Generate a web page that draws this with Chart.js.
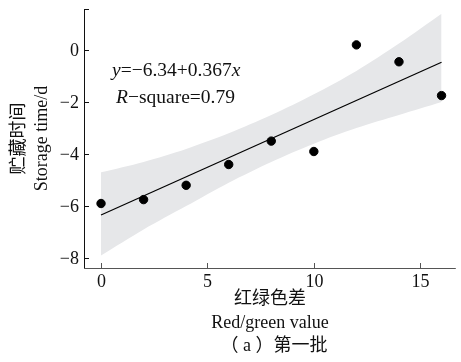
<!DOCTYPE html>
<html>
<head>
<meta charset="utf-8">
<script src="https://cdn.jsdelivr.net/npm/chart.js@4.4.1/dist/chart.umd.min.js"></script>
<style>
  body { margin: 0; background: #fff; }
  canvas { display: block; }
</style>
</head>
<body>
<canvas id="chart" width="461" height="362"></canvas>
<script>
// values
const xVals = [0, 2, 4, 6, 8, 10, 12, 14, 16];
const yVals = [-5.9, -5.75, -5.2, -4.4, -3.5, -3.9, 0.2, -0.45, -1.75];

// fitted line y = -6.34 + 0.367x, end points as drawn
const fitX = [0, 16];
const fitY = [-6.34, -0.47];

// confidence band edges
const bandX = [0, 2, 4, 6, 8, 10, 12, 14, 16];
const bandUpper = [-4.7, -4.3, -3.8, -3.2, -2.5, -1.7, -0.8, 0.25, 1.4];
const bandLower = [-7.9, -6.9, -6.0, -5.1, -4.3, -3.6, -3.0, -2.5, -2.0];

const xTicks = [0, 5, 10, 15];
const yTicks = [0, -2, -4, -6, -8];

const serif = '"Liberation Serif", "Times New Roman", serif';
const cjk = '"Liberation Serif", "Noto Sans CJK SC", serif';

const pts = (xs, ys) => xs.map((x, i) => ({ x: x, y: ys[i] }));
const minus = (v) => (v < 0 ? '\u2212' + Math.abs(v) : String(v));

const decorations = {
    id: 'decorations',
    afterDraw(chart) {
        const ctx = chart.ctx;
        const a = chart.chartArea;
        const xs = chart.scales.x;
        const ys = chart.scales.y;
        ctx.save();

        // axes
        ctx.lineWidth = 1;
        ctx.strokeStyle = '#111';
        ctx.beginPath();
        ctx.moveTo(a.left + 0.5, a.top);
        ctx.lineTo(a.left + 0.5, a.bottom);
        ctx.stroke();
        ctx.strokeStyle = '#555';
        ctx.beginPath();
        ctx.moveTo(a.left, a.bottom + 0.5);
        ctx.lineTo(a.right, a.bottom + 0.5);
        ctx.stroke();

        // inward ticks + labels
        ctx.fillStyle = '#111';
        ctx.font = '18px ' + serif;
        ctx.textAlign = 'right';
        ctx.textBaseline = 'middle';
        ctx.strokeStyle = '#111';
        yTicks.forEach((v) => {
            const py = Math.round(ys.getPixelForValue(v)) + 0.5;
            ctx.beginPath();
            ctx.moveTo(a.left, py);
            ctx.lineTo(a.left + 5, py);
            ctx.stroke();
            ctx.fillText(minus(v), a.left - 5, py + 1);
        });
        ctx.beginPath();
        ctx.moveTo(a.left, a.top + 0.5);
        ctx.lineTo(a.left + 5, a.top + 0.5);
        ctx.stroke();

        ctx.strokeStyle = '#555';
        ctx.textAlign = 'center';
        ctx.textBaseline = 'top';
        xTicks.forEach((v) => {
            const px = Math.round(xs.getPixelForValue(v)) + 0.5;
            ctx.beginPath();
            ctx.moveTo(px, a.bottom);
            ctx.lineTo(px, a.bottom - 5);
            ctx.stroke();
            ctx.fillText(String(v), px, a.bottom + 5);
        });

        // x title
        const cx = (a.left + a.right) / 2;
        ctx.textBaseline = 'middle';
        ctx.font = '18px ' + cjk;
        ctx.fillText('红绿色差', cx, 299);
        ctx.font = '18px ' + serif;
        ctx.fillText('Red/green value', cx, 323);
        ctx.font = '18px ' + cjk;
        ctx.fillText('（ a ）第一批', cx + 4, 346);

        // y title
        const cy = (a.top + a.bottom) / 2;
        ctx.save();
        ctx.translate(19, cy);
        ctx.rotate(-Math.PI / 2);
        ctx.font = '18px ' + cjk;
        ctx.fillText('贮藏时间', 0, 0);
        ctx.restore();
        ctx.save();
        ctx.translate(42, cy);
        ctx.rotate(-Math.PI / 2);
        ctx.font = '18px ' + serif;
        ctx.fillText('Storage time/d', 0, 0);
        ctx.restore();

        // equation text
        ctx.textAlign = 'left';
        ctx.textBaseline = 'alphabetic';
        const runs = (x, y, parts) => {
            parts.forEach(([t, it]) => {
                ctx.font = (it ? 'italic ' : '') + '19.5px ' + serif;
                ctx.fillText(t, x, y);
                x += ctx.measureText(t).width;
            });
        };
        runs(112, 76, [['y', true], ['=\u22126.34+0.367', false], ['x', true]]);
        runs(116, 103, [['R', true], ['\u2212square=0.79', false]]);

        ctx.restore();
    }
};

new Chart(document.getElementById('chart'), {
    type: 'scatter',
    data: {
        datasets: [
            {
                data: pts(xVals, yVals),
                backgroundColor: '#000',
                borderColor: '#000',
                pointRadius: 4.2,
                pointHoverRadius: 4.2
            },
            {
                data: pts(fitX, fitY),
                showLine: true,
                borderColor: '#000',
                borderWidth: 1.2,
                pointRadius: 0
            },
            {
                data: pts(bandX, bandUpper),
                showLine: true,
                borderWidth: 0,
                borderColor: 'rgba(0,0,0,0)',
                backgroundColor: '#e6e7e9',
                fill: '+1',
                tension: 0.3,
                pointRadius: 0
            },
            {
                data: pts(bandX, bandLower),
                showLine: true,
                borderWidth: 0,
                borderColor: 'rgba(0,0,0,0)',
                tension: 0.3,
                pointRadius: 0
            }
        ]
    },
    options: {
        responsive: false,
        devicePixelRatio: 1,
        animation: false,
        layout: { padding: { left: 84, top: 9, right: 0, bottom: 94 } },
        plugins: {
            legend: { display: false },
            tooltip: { enabled: false }
        },
        scales: {
            x: {
                type: 'linear',
                min: -0.8,
                max: 16.67,
                ticks: { display: false },
                grid: { display: false, drawTicks: false },
                border: { display: false }
            },
            y: {
                type: 'linear',
                min: -8.38,
                max: 1.58,
                ticks: { display: false },
                grid: { display: false, drawTicks: false },
                border: { display: false }
            }
        }
    },
    plugins: [decorations]
});
</script>
</body>
</html>
